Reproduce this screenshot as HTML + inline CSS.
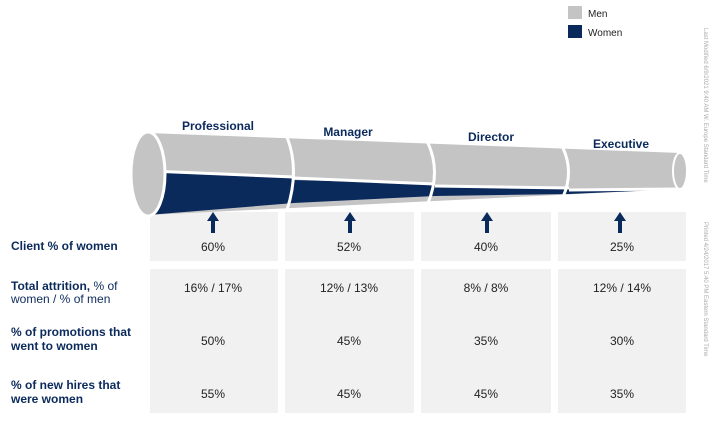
<!DOCTYPE html>
<html><head><meta charset="utf-8"><style>
body{margin:0;background:#fff;width:722px;height:431px;overflow:hidden;font-family:"Liberation Sans",Arial,sans-serif}
svg{display:block}
</style></head><body>
<svg width="722" height="431" viewBox="0 0 722 431" font-family="Liberation Sans, Arial, sans-serif">
<!-- boxes -->
<g fill="#f1f1f1">
<rect x="150" y="212" width="128" height="49"/><rect x="285" y="212" width="129" height="49"/><rect x="421" y="212" width="130" height="49"/><rect x="558" y="212" width="128" height="49"/>
<rect x="150" y="269" width="128" height="144"/><rect x="285" y="269" width="129" height="144"/><rect x="421" y="269" width="130" height="144"/><rect x="558" y="269" width="128" height="144"/>
</g>
<!-- funnel -->
<polygon points="148,133 680,153 680,189 148,215" fill="#c4c4c4"/>
<polygon points="148,171 294,178 294,203 148,215" fill="#0b2a5c"/>
<polygon points="294,180 435,184 435,196 294,203" fill="#0b2a5c"/>
<polygon points="435,186 569,188 569,194 435,196" fill="#0b2a5c"/>
<polygon points="569,190 680,189 569,194" fill="#0b2a5c"/>
<g stroke="#fff" stroke-width="3" fill="none">
<line x1="150" y1="171" x2="294" y2="177"/><line x1="294" y1="178" x2="435" y2="184"/><line x1="435" y1="186" x2="569" y2="188"/><line x1="569" y1="190" x2="680" y2="189"/>
<path d="M287,137 Q300,170 287,210"/><path d="M428,143 Q441,172 428,203"/><path d="M563,148 Q574,172 563,197"/>
</g>
<ellipse cx="148" cy="174" rx="17" ry="42" fill="#c4c4c4" stroke="#fff" stroke-width="3"/>
<ellipse cx="680" cy="171" rx="7" ry="18" fill="#c4c4c4" stroke="#fff" stroke-width="2"/>
<!-- arrows -->
<g fill="#0b2a5c">
<path d="M213,212 l-6,9 h4 v12 h4 v-12 h4z"/><path d="M350,212 l-6,9 h4 v12 h4 v-12 h4z"/><path d="M487,212 l-6,9 h4 v12 h4 v-12 h4z"/><path d="M620,212 l-6,9 h4 v12 h4 v-12 h4z"/>
</g>
<!-- stage labels -->
<g fill="#0b2a5c" font-weight="bold" font-size="12" text-anchor="middle">
<text x="218" y="130">Professional</text><text x="348" y="136">Manager</text><text x="491" y="141">Director</text><text x="621" y="148">Executive</text>
</g>
<!-- legend -->
<rect x="568" y="6" width="14" height="13" fill="#c4c4c4"/><rect x="568" y="25" width="14" height="13" fill="#0b2a5c"/>
<text x="588" y="17" font-size="10" fill="#222">Men</text><text x="588" y="36" font-size="10" fill="#222">Women</text>
<!-- row labels -->
<g fill="#0b2a5c" font-size="12" font-weight="bold">
<text x="11" y="250">Client % of women</text>
<text x="11" y="290">Total attrition,<tspan font-weight="normal"> % of</tspan></text>
<text x="11" y="303" font-weight="normal">women / % of men</text>
<text x="11" y="336">% of promotions that</text><text x="11" y="350">went to women</text>
<text x="11" y="389">% of new hires that</text><text x="11" y="403">were women</text>
</g>
<g fill="#222" font-size="12" text-anchor="middle">
<text x="213" y="251">60%</text><text x="349" y="251">52%</text><text x="486" y="251">40%</text><text x="622" y="251">25%</text>
<text x="213" y="292">16% / 17%</text><text x="349" y="292">12% / 13%</text><text x="486" y="292">8% / 8%</text><text x="622" y="292">12% / 14%</text>
<text x="213" y="345">50%</text><text x="349" y="345">45%</text><text x="486" y="345">35%</text><text x="622" y="345">30%</text>
<text x="213" y="398">55%</text><text x="349" y="398">45%</text><text x="486" y="398">45%</text><text x="622" y="398">35%</text>
</g>
<g fill="#aaa" font-size="6">
<text transform="translate(704,28) rotate(90)">Last Modified 6/9/2021  9:40 AM W. Europe Standard Time</text>
<text transform="translate(704,222) rotate(90)">Printed 4/24/2017  5:40 PM Eastern Standard Time</text>
</g>
</svg>
</body></html>
